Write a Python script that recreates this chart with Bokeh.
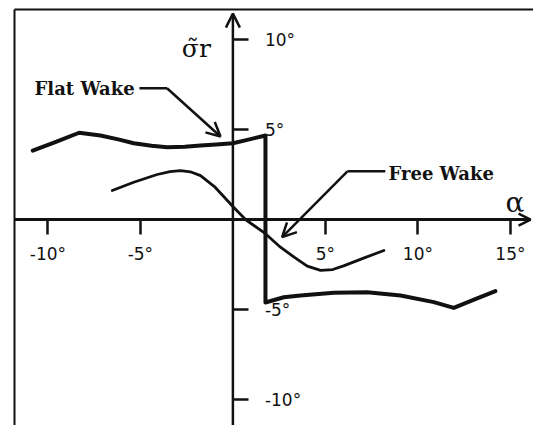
from bokeh.plotting import figure
from bokeh.models import Range1d, LinearAxis, FixedTicker, Arrow, OpenHead, Label
from bokeh.embed import file_html
from bokeh.resources import INLINE

# Angle of attack alpha (deg) against rotor response sigma_r (deg)
free_alpha = [-6.52, -5.36, -4.09, -3.4, -2.83, -2.3, -1.75, -1.0, 0.0, 0.68,
              1.76, 2.57, 3.31, 4.02, 4.74, 5.4, 6.02, 7.1, 8.16]
free_sigma = [1.61, 2.07, 2.5, 2.66, 2.72, 2.65, 2.44, 1.83, 0.72, 0.0,
              -0.79, -1.54, -2.09, -2.59, -2.83, -2.78, -2.56, -2.13, -1.72]

flat_alpha = [-10.82, -9.6, -8.31, -7.16, -6.2, -5.36, -4.4, -3.55, -2.6, -1.75,
              -0.9, 0.0, 0.9, 1.76, 1.76, 2.75, 3.65, 5.45, 7.26, 9.06,
              10.86, 11.94, 13.0, 14.19]
flat_sigma = [3.83, 4.3, 4.82, 4.67, 4.45, 4.24, 4.1, 4.02, 4.04, 4.11,
              4.17, 4.24, 4.45, 4.67, -4.61, -4.32, -4.22, -4.07, -4.04, -4.22,
              -4.59, -4.91, -4.47, -3.98]

x_ticks = [-10, -5, 5, 10, 15]
x_tick_labels = ["-10°", "-5°", "5°", "10°", "15°"]
y_ticks = [10, 5, -5, -10]
y_tick_labels = ["10°", "5°", "-5°", "-10°"]

X_MIN, X_MAX = -11.805, 16.249
Y_MIN, Y_MAX = -11.444, 11.667

INK = "#111111"
TICK_FONT = "DejaVu Sans"
SERIF = "DejaVu Serif"

p = figure(width=533, height=425, x_range=Range1d(X_MIN, X_MAX), y_range=Range1d(Y_MIN, Y_MAX),
           output_backend="svg", toolbar_location=None,
           x_axis_location=None, y_axis_location=None,
           min_border_left=14, min_border_top=9, min_border_right=0, min_border_bottom=0,
           background_fill_color="white", border_fill_color="white")
p.grid.visible = False
p.outline_line_color = None

# plain frame lines on the left and top edges
for side in ("left", "above"):
    frame_axis = LinearAxis(ticker=FixedTicker(ticks=[]), major_tick_out=0, major_tick_in=0,
                            minor_tick_out=0, minor_tick_in=0, major_label_text_font_size="0px",
                            major_label_standoff=0, axis_line_width=2, axis_line_color=INK)
    p.add_layout(frame_axis, side)

# alpha axis through sigma = 0, ticks and labels underneath
xax = LinearAxis(fixed_location=0, ticker=FixedTicker(ticks=x_ticks),
                 major_label_overrides=dict(zip(x_ticks, x_tick_labels)),
                 axis_line_color=None, major_tick_out=15, major_tick_in=0,
                 major_tick_line_width=2.5, major_tick_line_color=INK,
                 minor_tick_out=0, minor_tick_in=0, major_label_standoff=9,
                 major_label_text_font=TICK_FONT, major_label_text_font_size="17px",
                 major_label_text_color=INK)
p.add_layout(xax, "below")

# sigma axis through alpha = 0, ticks and labels to the right
yax = LinearAxis(fixed_location=0, ticker=FixedTicker(ticks=y_ticks),
                 major_label_overrides=dict(zip(y_ticks, y_tick_labels)),
                 axis_line_color=None, major_tick_out=16, major_tick_in=0,
                 major_tick_line_width=2.5, major_tick_line_color=INK,
                 minor_tick_out=0, minor_tick_in=0, major_label_standoff=16,
                 major_label_text_font=TICK_FONT, major_label_text_font_size="17px",
                 major_label_text_color=INK)
p.add_layout(yax, "right")

# axis lines with open arrowheads
p.add_layout(Arrow(x_start=X_MIN, y_start=0, x_end=16.09, y_end=0, line_width=3, line_color=INK,
                   end=OpenHead(size=12, line_width=2.5, line_color=INK)))
p.add_layout(Arrow(x_start=0, y_start=Y_MIN, x_end=0, y_end=11.44, line_width=2.5, line_color=INK,
                   end=OpenHead(size=14, line_width=2.5, line_color=INK)))

# response curves
p.line(flat_alpha, flat_sigma, line_width=4, line_color=INK, line_join="round", line_cap="round")
p.line(free_alpha, free_sigma, line_width=2.8, line_color=INK, line_join="round", line_cap="round")

# callouts
p.line([-5.05, -3.56], [7.29, 7.29], line_width=2.5, line_color=INK)
p.add_layout(Arrow(x_start=-3.56, y_start=7.29, x_end=-0.67, y_end=4.61, line_width=2.5, line_color=INK,
                   end=OpenHead(size=14, line_width=2.5, line_color=INK)))
p.add_layout(Label(x=-10.72, y=7.29, text="Flat Wake", text_baseline="middle", text_font=SERIF,
                   text_font_style="bold", text_font_size="18px", text_color=INK))

p.line([8.24, 6.19], [2.68, 2.68], line_width=2.5, line_color=INK)
p.add_layout(Arrow(x_start=6.19, y_start=2.68, x_end=2.66, y_end=-0.98, line_width=2.5, line_color=INK,
                   end=OpenHead(size=14, line_width=2.5, line_color=INK)))
p.add_layout(Label(x=8.41, y=2.53, text="Free Wake", text_baseline="middle", text_font=SERIF,
                   text_font_style="bold", text_font_size="18px", text_color=INK))

# axis names
p.add_layout(Label(x=-2.76, y=9.5, text="σ̃r", text_baseline="alphabetic", text_font=SERIF,
                   text_font_size="25px", text_color=INK))
p.add_layout(Label(x=14.73, y=0.95, text="α", text_baseline="alphabetic", text_font=SERIF,
                   text_font_size="28px", text_color=INK))

open("out.html", "w").write(file_html(p, INLINE))
